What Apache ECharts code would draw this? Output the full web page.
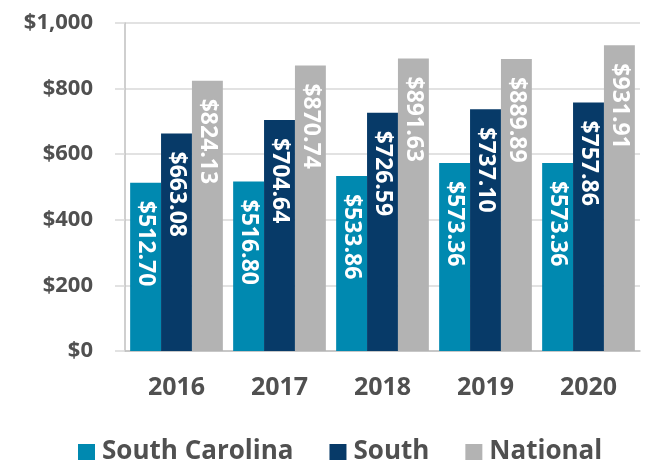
<!DOCTYPE html>
<html>
<head>
<meta charset="utf-8">
<script src="https://cdn.jsdelivr.net/npm/echarts@6/dist/echarts.min.js"></script>
<style>
  html, body { margin: 0; padding: 0; background: #fff; }
  #chart { width: 647px; height: 461px; }
</style>
</head>
<body>
<div id="chart"></div>
<script>
const years = ['2016', '2017', '2018', '2019', '2020'];
const southCarolina = [512.70, 516.80, 533.86, 573.36, 573.36];
const south = [663.08, 704.64, 726.59, 737.10, 757.86];
const national = [824.13, 870.74, 891.63, 889.89, 931.91];

const font = 'Open Sans';
const textColor = '#505050';

const barLabel = {
  show: true,
  position: 'insideTop',
  distance: 18,
  rotate: -90,
  align: 'left',
  verticalAlign: 'middle',
  color: '#fff',
  fontFamily: font,
  fontWeight: 'bold',
  fontSize: 23,
  formatter: p => '$' + p.value.toFixed(2)
};

const myChart = echarts.init(document.getElementById('chart'));
myChart.setOption({
  animation: false,
  grid: { left: 125, right: 7, top: 23, bottom: 110 },
  legend: {
    data: ['South Carolina', 'South', 'National'],
    left: 73,
    top: 434,
    itemWidth: 17,
    itemHeight: 16,
    itemGap: 36,
    icon: 'rect',
    textStyle: { fontFamily: font, fontWeight: 'bold', fontSize: 26, color: textColor, padding: [0, 0, 0, 2] }
  },
  xAxis: {
    type: 'category',
    data: years,
    axisLine: { lineStyle: { color: '#bfbfbf', width: 1.5 } },
    axisTick: { length: 10, lineStyle: { color: '#bfbfbf', width: 1.5 } },
    axisLabel: { margin: 24, fontFamily: font, fontWeight: 'bold', fontSize: 25, color: textColor }
  },
  yAxis: {
    type: 'value',
    min: 0,
    max: 1000,
    interval: 200,
    axisLine: { show: true, lineStyle: { color: '#bfbfbf', width: 1.5 } },
    axisTick: { show: true, length: 10, lineStyle: { color: '#d9d9d9', width: 1.5 } },
    splitLine: { lineStyle: { color: '#d9d9d9', width: 1.5 } },
    axisLabel: {
      margin: 32,
      fontFamily: font,
      fontWeight: 'bold',
      fontSize: 22,
      color: textColor,
      formatter: v => '$' + v.toLocaleString('en-US')
    }
  },
  series: [
    { name: 'South Carolina', type: 'bar', data: southCarolina, barGap: '0%', barCategoryGap: '10%', itemStyle: { color: '#0089b0' }, label: barLabel },
    { name: 'South', type: 'bar', data: south, barGap: '0%', barCategoryGap: '10%', itemStyle: { color: '#073a68' }, label: barLabel },
    { name: 'National', type: 'bar', data: national, barGap: '0%', barCategoryGap: '10%', itemStyle: { color: '#b3b3b3' }, label: barLabel }
  ]
});
</script>
</body>
</html>
